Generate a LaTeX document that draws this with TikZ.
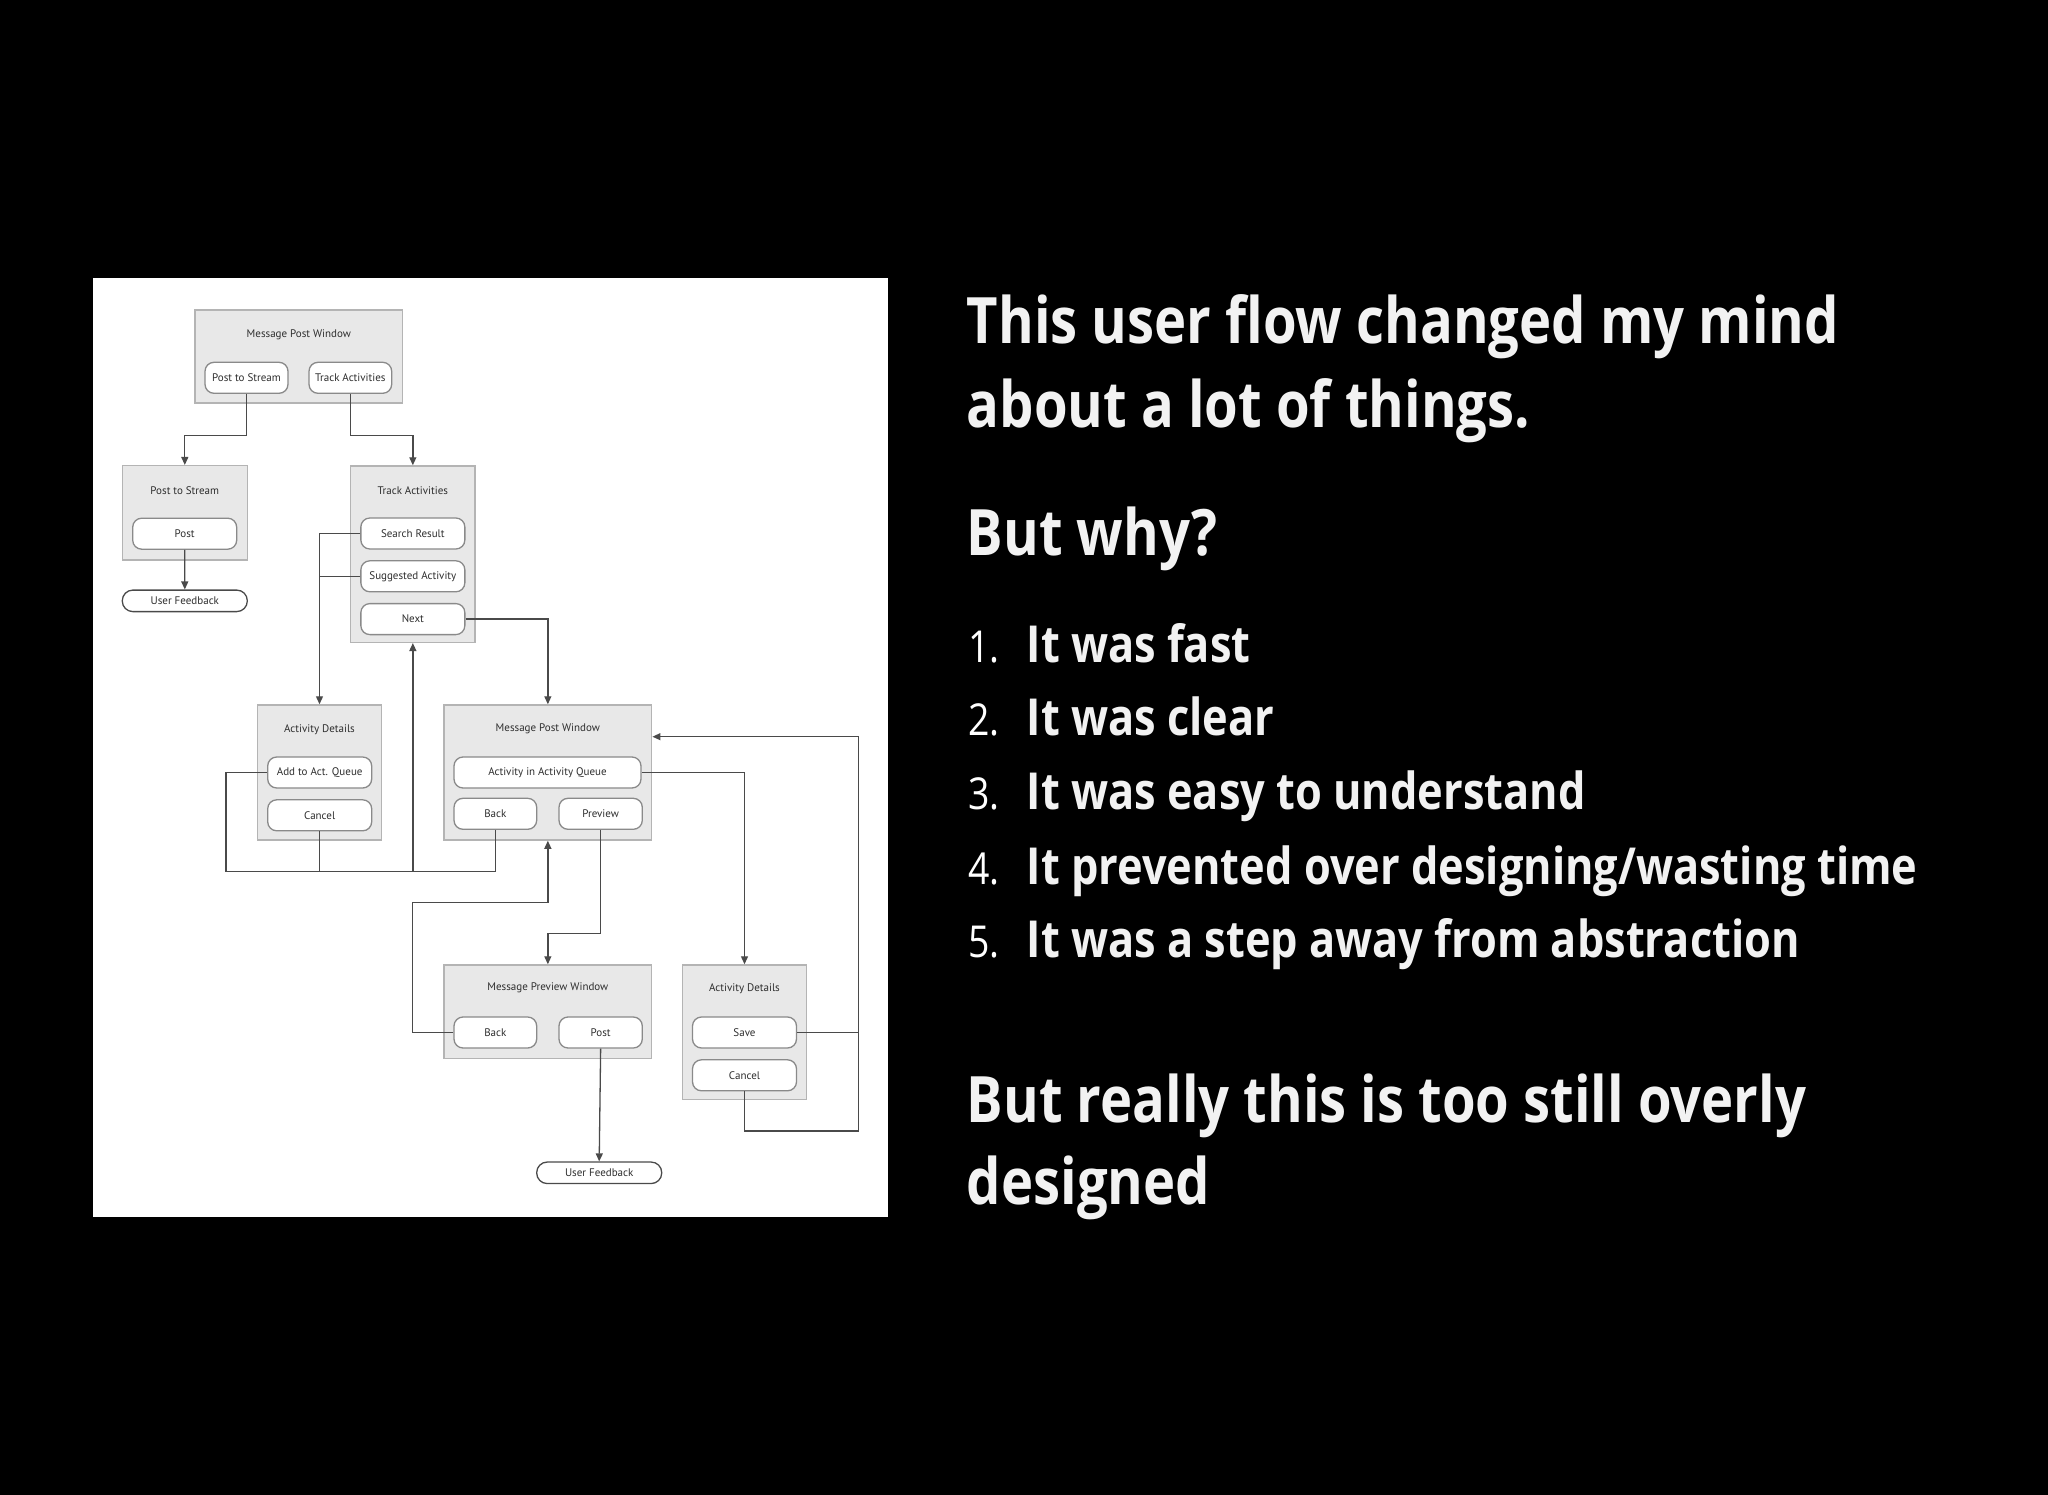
\documentclass[tikz,border=0pt]{standalone}
\usepackage{fontspec}
\usepackage{xcolor}
\usepackage{tikz}
\usetikzlibrary{arrows.meta,positioning,calc}
\setmainfont{Open Sans}
\newfontfamily\slidefont{Open Sans}[FakeStretch=0.85]
\newfontfamily\flowfont{PT Sans}
\definecolor{winfill}{HTML}{E8E8E8}
\definecolor{windraw}{HTML}{B4B4B4}
\definecolor{btndraw}{HTML}{8A8A8A}
\definecolor{flowline}{HTML}{4A4A4A}
\definecolor{flowtext}{HTML}{2E2E2E}
\definecolor{slidetext}{HTML}{F2F2F2}
\tikzset{
  ufwin/.style={
    rectangle, draw=windraw, fill=winfill, line width=1.5pt, inner sep=0pt
  },
  uftitle/.style={font=\flowfont\fontsize{11}{13}\selectfont, text=flowtext, inner sep=0pt},
  ufbtn/.style={
    rectangle, rounded corners=9pt, draw=btndraw, fill=white, line width=1.3pt,
    minimum height=31pt, inner sep=0pt,
    font=\flowfont\fontsize{11}{13}\selectfont, text=flowtext
  },
  ufend/.style={ufbtn, rounded corners=10.5pt, minimum height=21.5pt, minimum width=125pt, draw=flowline},
  ufline/.style={draw=flowline, line width=1.3pt},
  ufarrow/.style={ufline, -{Triangle[length=8pt,width=7pt]}},
  slidehead/.style={anchor=base west, inner sep=0pt, text=slidetext, font=\slidefont\bfseries\fontsize{64}{84}\selectfont},
  slideitem/.style={anchor=base west, inner sep=0pt, text=slidetext, font=\slidefont\bfseries\fontsize{51}{60}\selectfont},
  slidenum/.style={anchor=base west, inner sep=0pt, text=white, font=\slidefont\fontsize{44}{60}\selectfont},
}

\begin{document}
\begin{tikzpicture}[x=1pt, y=-1pt, node distance=10.5pt]
  \useasboundingbox[fill=black] (0,0) rectangle (2048,1495);
  \fill[white] (92.5,278) rectangle (888,1217);

  \node (mpwA) [ufwin, minimum width=207.7pt, minimum height=93pt] at (298.85,356.5) {};
  \node (ptsW) [ufwin, minimum width=125pt, minimum height=94.3pt] at (184.8,512.85) {};
  \node (taW)  [ufwin, minimum width=124.3pt, minimum height=176.3pt] at (412.85,554.15) {};
  \node (adA)  [ufwin, minimum width=124.4pt, minimum height=135pt] at (319.5,772.5) {};
  \node (mpwB) [ufwin, minimum width=207.7pt, minimum height=135pt] at (547.85,772.5) {};
  \node (mpvW) [ufwin, minimum width=207.7pt, minimum height=93.3pt] at (547.85,1011.65) {};
  \node (adB)  [ufwin, minimum width=124.4pt, minimum height=134.3pt] at (744.5,1032.15) {};

  \node (mpwAt) [uftitle] at ($(mpwA.north)+(0,25.5)$) {Message Post Window};
  \node (ptsWt) [uftitle] at ($(ptsW.north)+(0,25.5)$) {Post to Stream};
  \node (taWt)  [uftitle] at ($(taW.north)+(0,25.5)$) {Track Activities};
  \node (adAt)  [uftitle] at ($(adA.north)+(0,25.5)$) {Activity Details};
  \node (mpwBt) [uftitle] at ($(mpwB.north)+(0,25)$) {Message Post Window};
  \node (mpvWt) [uftitle] at ($(mpvW.north)+(0,24)$) {Message Preview Window};
  \node (adBt)  [uftitle] at ($(adB.north)+(0,24)$) {Activity Details};

  \node (pstB)  [ufbtn, minimum width=83pt] at (246.5,377.8) {Post to Stream};
  \node (trkB)  [ufbtn, minimum width=82.7pt] at (350.35,377.8) {Track Activities};
  \node (postA) [ufbtn, minimum width=104pt] at (184.7,533.7) {Post};
  \node (srchB) [ufbtn, minimum width=104pt] at (412.85,533.5) {Search Result};
  \node (suggB) [ufbtn, minimum width=104pt, below=of srchB] {Suggested Activity};
  \node (nextB) [ufbtn, minimum width=104pt, below=of suggB] {Next};
  \node (addqB) [ufbtn, minimum width=104pt] at (319.7,772.5) {Add to Act. Queue};
  \node (cancA) [ufbtn, minimum width=104pt, below=of addqB] {Cancel};
  \node (actqB) [ufbtn, minimum width=187pt] at (547.5,772.5) {Activity in Activity Queue};
  \node (backA) [ufbtn, minimum width=82.7pt] at (495.35,813.8) {Back};
  \node (prevB) [ufbtn, minimum width=83.3pt, right=21pt of backA] {Preview};
  \node (backB) [ufbtn, minimum width=82.7pt] at (495.35,1032.5) {Back};
  \node (postB) [ufbtn, minimum width=83.3pt, right=21pt of backB] {Post};
  \node (saveB) [ufbtn, minimum width=104pt] at (744.5,1032.5) {Save};
  \node (cancB) [ufbtn, minimum width=104pt, below=of saveB] {Cancel};
  \node (ufA) [ufend] at (184.8,600.85) {User Feedback};
  \node (ufB) [ufend] at (599.2,1172.8) {User Feedback};

  \draw[ufarrow] (pstB.south) -- ++(0,41.7) -| (ptsW.north);
  \draw[ufarrow] (trkB.south) -- ++(0,41.7) -| (taW.north);
  \draw[ufarrow] (postA.south) -- (ufA.north);
  \draw[ufarrow] (srchB.west) -| (adA.north);
  \draw[ufline] (suggB.west) -- (suggB.west -| adA.north);
  \draw[ufarrow] (nextB.east) -| (mpwB.north);
  \coordinate (busL) at (226,871.7);
  \draw[ufline] (addqB.west) -| (busL) -- (busL -| backA.south) -- (backA.south);
  \draw[ufline] (cancA.south) -- (cancA.south |- busL);
  \draw[ufarrow] (taW.south |- busL) -- (taW.south);
  \draw[ufarrow] (actqB.east) -| (adB.north);
  \draw[ufarrow] (prevB.south) -- ++(0,103.2) -| (mpvW.north);
  \coordinate (loopB) at (412.7,902.4);
  \draw[ufarrow] (backB.west) -| (loopB) -| (mpwB.south);
  \draw[ufarrow] (postB.south) -- (ufB.north);
  \coordinate (rtA) at (858.3,736.7);
  \coordinate (rtC) at (858.3,1131);
  \draw[ufarrow] (saveB.east) -| (rtA) -- (rtA -| mpwB.east);
  \draw[ufline] (cancB.south) |- (rtC) -- (rtC |- saveB.east);

  \node (hdA) [slidehead] at (966.6,343.5) {This user flow changed my mind};
  \node (hdB) [slidehead] at (966.6,427.5) {about a lot of things.};
  \node (hdC) [slidehead] at (966.6,555) {But why?};
  \node (nmA) [slidenum] at (968,662) {1.};
  \node (nmB) [slidenum] at (968,735.5) {2.};
  \node (nmC) [slidenum] at (968,809.5) {3.};
  \node (nmD) [slidenum] at (968,884) {4.};
  \node (nmE) [slidenum] at (968,957) {5.};
  \node (itA) [slideitem] at (1026.5,662) {It was fast};
  \node (itB) [slideitem] at (1026.5,735.5) {It was clear};
  \node (itC) [slideitem] at (1026.5,809.5) {It was easy to understand};
  \node (itD) [slideitem] at (1026.5,884) {It prevented over designing/wasting time};
  \node (itE) [slideitem] at (1026.5,957) {It was a step away from abstraction};
  \node (ftA) [slidehead] at (966.6,1122) {But really this is too still overly};
  \node (ftB) [slidehead] at (966.6,1204) {designed};
\end{tikzpicture}
\end{document}
